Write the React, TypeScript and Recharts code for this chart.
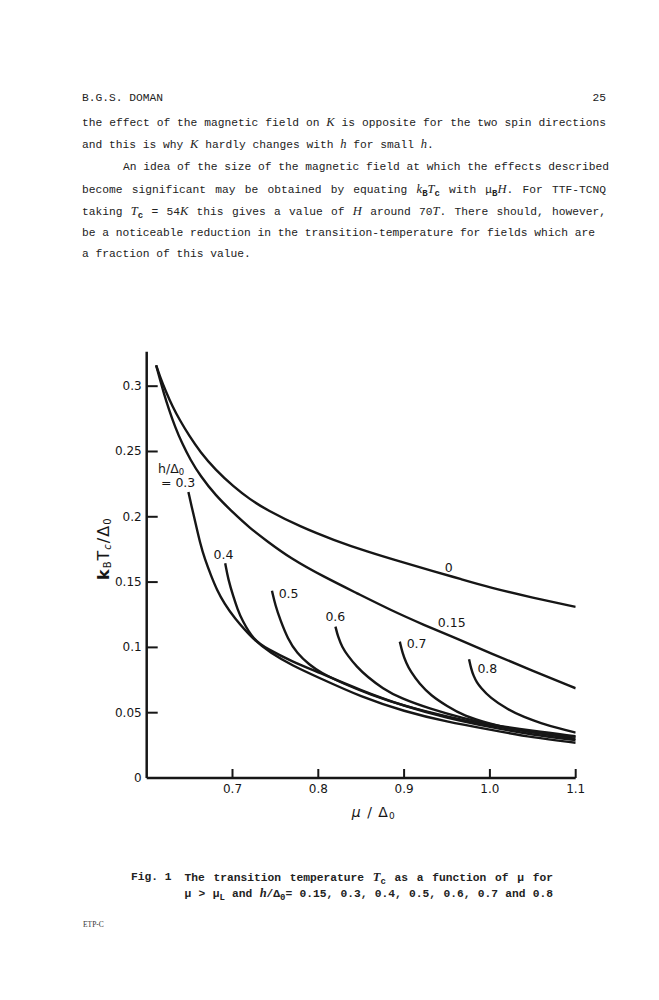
import React from 'react';
import { LineChart, Line, XAxis, YAxis, ReferenceDot } from 'recharts';

// ---------- axis ticks ----------
const xTicks = [0.7, 0.8, 0.9, 1.0, 1.1];
const xTickLabels = ['0.7', '0.8', '0.9', '1.0', '1.1'];
const yTicks = [0, 0.05, 0.1, 0.15, 0.2, 0.25, 0.3];
const yTickLabels = ['0', '0.05', '0.1', '0.15', '0.2', '0.25', '0.3'];

// ---------- series: [mu/Delta0, kBTc/Delta0] ----------
const curveH0: [number, number][] = [
  [0.611, 0.316], [0.616, 0.3065], [0.622, 0.2965], [0.63, 0.2845], [0.639, 0.2735],
  [0.65, 0.2615], [0.6625, 0.2495], [0.68, 0.236], [0.7012, 0.2231], [0.72, 0.2135],
  [0.74, 0.2052], [0.779, 0.1924], [0.818, 0.1822], [0.857, 0.1733], [0.896, 0.1656],
  [0.935, 0.1582], [0.966, 0.1523], [1.0, 0.1458], [1.05, 0.138], [1.1, 0.131],
];
const curveH015: [number, number][] = [
  [0.611, 0.316], [0.6155, 0.305], [0.62, 0.2945], [0.626, 0.282], [0.633, 0.269],
  [0.641, 0.2565], [0.651, 0.2435], [0.6623, 0.2315], [0.68, 0.2165], [0.701, 0.203],
  [0.72, 0.1915], [0.74, 0.1815], [0.7676, 0.1682], [0.8063, 0.1541], [0.8453, 0.1414],
  [0.8842, 0.1286], [0.9231, 0.1172], [0.9621, 0.1065], [1.001, 0.0955], [1.05, 0.082],
  [1.1, 0.0687],
];
const curveH03: [number, number][] = [
  [0.6486, 0.219], [0.653, 0.206], [0.657, 0.195], [0.6623, 0.1797], [0.668, 0.167],
  [0.675, 0.155], [0.6818, 0.144], [0.691, 0.133], [0.701, 0.1235], [0.7245, 0.1057],
  [0.744, 0.096], [0.77, 0.086], [0.8, 0.077], [0.85, 0.062], [0.9, 0.051],
  [0.95, 0.043], [1.0, 0.037], [1.05, 0.031], [1.1, 0.027],
];
const curveH04: [number, number][] = [
  [0.6915, 0.1644], [0.695, 0.152], [0.701, 0.1388], [0.706, 0.129], [0.711, 0.121],
  [0.7245, 0.1057], [0.74, 0.099], [0.77, 0.089], [0.8, 0.081], [0.85, 0.067],
  [0.9, 0.055], [0.95, 0.046], [1.0, 0.039], [1.05, 0.033], [1.1, 0.029],
];
const curveH05: [number, number][] = [
  [0.746, 0.1434], [0.75, 0.132], [0.7557, 0.121], [0.7643, 0.1067], [0.775, 0.0955],
  [0.79, 0.0865], [0.802, 0.081], [0.83, 0.072], [0.86, 0.064], [0.9, 0.055],
  [0.95, 0.047], [1.0, 0.04], [1.05, 0.035], [1.1, 0.03],
];
const curveH06: [number, number][] = [
  [0.82, 0.1159], [0.823, 0.108], [0.828, 0.1], [0.834, 0.094], [0.845, 0.085],
  [0.857, 0.0776], [0.875, 0.0685], [0.896, 0.061], [0.93, 0.053], [0.97, 0.0455],
  [1.0, 0.041], [1.05, 0.036], [1.1, 0.032],
];
const curveH07: [number, number][] = [
  [0.895, 0.1044], [0.898, 0.096], [0.9025, 0.088], [0.9076, 0.0815], [0.918, 0.072],
  [0.931, 0.0633], [0.95, 0.055], [0.97, 0.0475], [1.0, 0.0415], [1.028, 0.037],
  [1.06, 0.034], [1.1, 0.0315],
];
const curveH08: [number, number][] = [
  [0.9757, 0.0909], [0.978, 0.084], [0.981, 0.078], [0.985, 0.073], [0.989, 0.0695],
  [1.0, 0.0615], [1.0206, 0.0525], [1.04, 0.0465], [1.0595, 0.042], [1.08, 0.038],
  [1.1, 0.0348],
];

const seriesList = [curveH0, curveH015, curveH03, curveH04, curveH05, curveH06, curveH07, curveH08];

// ---------- curve labels (data coordinates) ----------
const curveLabelText = ['0', '0.15', '0.4', '0.5', '0.6', '0.7', '0.8', '= 0.3'];
const curveLabelX = [0.952, 0.9555, 0.6895, 0.7654, 0.8199, 0.9146, 0.997, 0.6366];
const curveLabelY = [0.1608, 0.1187, 0.1715, 0.1414, 0.1235, 0.1026, 0.084, 0.2259];
const hLabelPos = [0.6284, 0.2374];

const INK = '#161616';
const CHART_FONT = '"DejaVu Sans", "Liberation Sans", sans-serif';
const MONO = '"Liberation Mono", "DejaVu Sans Mono", monospace';
const SERIF = '"Liberation Serif", "DejaVu Serif", serif';

const toPoints = (arr: [number, number][]) => arr.map(([x, y]) => ({ x, y }));

const idx = (arr: number[], v: number) => arr.findIndex((t) => Math.abs(t - v) < 1e-9);

const XTick = (props: any) => {
  const { x, y, payload } = props;
  const i = idx(xTicks, payload.value);
  return (
    <g>
      <line x1={x} x2={x} y1={y} y2={y - 9} stroke={INK} strokeWidth={2} />
      <text x={x} y={y + 11} textAnchor="middle" dominantBaseline="central" fontSize={12} fill={INK} fontFamily={CHART_FONT}>
        {xTickLabels[i]}
      </text>
    </g>
  );
};

const YTick = (props: any) => {
  const { x, y, payload } = props;
  const i = idx(yTicks, payload.value);
  return (
    <g>
      {i > 0 && <line x1={x} x2={x + 11} y1={y} y2={y} stroke={INK} strokeWidth={2} />}
      <text x={x - 5} y={y} textAnchor="end" dominantBaseline="central" fontSize={12} fill={INK} fontFamily={CHART_FONT}>
        {yTickLabels[i]}
      </text>
    </g>
  );
};

const YLabel = (props: any) => {
  const vb = props.viewBox || { x: 106.7, y: 51.7, width: 40, height: 426.3 };
  const cx = vb.x + vb.width - 44;
  const cy = vb.y + 197;
  return (
    <text
      x={cx}
      y={cy}
      transform={`rotate(-90 ${cx} ${cy})`}
      textAnchor="middle"
      dominantBaseline="central"
      fontSize={16}
      fill={INK}
      fontFamily={CHART_FONT}
      letterSpacing={1}
    >
      <tspan fontWeight="bold">k</tspan>
      <tspan fontSize={10} dy={4}>B</tspan>
      <tspan dy={-4}>T</tspan>
      <tspan fontSize={10} dy={4} fontStyle="italic">c</tspan>
      <tspan dy={-4}>/Δ</tspan>
      <tspan fontSize={10} dy={4}>0</tspan>
    </text>
  );
};

const XLabel = (props: any) => {
  const vb = props.viewBox || { x: 146.7, y: 478, width: 429, height: 30 };
  const cx = vb.x + 227;
  const cy = vb.y + 34;
  return (
    <text x={cx} y={cy} textAnchor="middle" dominantBaseline="central" fontSize={14} fill={INK} fontFamily={CHART_FONT} letterSpacing={1}>
      <tspan fontStyle="italic">μ</tspan>
      <tspan> / Δ</tspan>
      <tspan fontSize={9} dy={4}>0</tspan>
    </text>
  );
};

const Chart = () => (
  <LineChart width={659} height={560} margin={{ top: 51.7, right: 83.3, left: 106.7, bottom: 52 }}>
    <XAxis
      dataKey="x"
      type="number"
      domain={[0.6, 1.1]}
      ticks={xTicks}
      allowDataOverflow
      height={30}
      tickSize={0}
      tickMargin={0}
      tickLine={false}
      tick={<XTick />}
      axisLine={{ stroke: INK, strokeWidth: 2.5 }}
      label={<XLabel />}
    />
    <YAxis
      type="number"
      domain={[0, 0.3264]}
      ticks={yTicks}
      allowDataOverflow
      width={40}
      tickSize={0}
      tickMargin={0}
      tickLine={false}
      tick={<YTick />}
      axisLine={{ stroke: INK, strokeWidth: 2.5 }}
      label={<YLabel />}
    />
    {seriesList.map((s, i) => (
      <Line
        key={i}
        data={toPoints(s)}
        dataKey="y"
        type="basis"
        stroke={INK}
        strokeWidth={2.4}
        dot={false}
        activeDot={false}
        isAnimationActive={false}
      />
    ))}
    {curveLabelText.map((t, i) => (
      <ReferenceDot
        key={'l' + i}
        x={curveLabelX[i]}
        y={curveLabelY[i]}
        r={0}
        ifOverflow="visible"
        shape={(p: any) => (
          <text x={p.cx} y={p.cy} textAnchor="middle" dominantBaseline="central" fontSize={12.5} fill={INK} fontFamily={CHART_FONT}>
            {t}
          </text>
        )}
      />
    ))}
    <ReferenceDot
      x={hLabelPos[0]}
      y={hLabelPos[1]}
      r={0}
      ifOverflow="visible"
      shape={(p: any) => (
        <text x={p.cx} y={p.cy} textAnchor="middle" dominantBaseline="central" fontSize={12.5} fill={INK} fontFamily={CHART_FONT}>
          <tspan>h/Δ</tspan>
          <tspan fontSize={8.5} dy={4}>0</tspan>
        </text>
      )}
    />
  </LineChart>
);

const lineStyle = (top: number, left = 82, width = 524, justify = false): React.CSSProperties => ({
  position: 'absolute',
  top,
  left,
  width,
  fontFamily: MONO,
  fontSize: 11.25,
  lineHeight: '16px',
  color: '#222',
  whiteSpace: 'nowrap',
  textAlign: justify ? 'justify' : 'left',
  textAlignLast: justify ? 'justify' : 'left',
} as React.CSSProperties);

const It = ({ children }: { children: React.ReactNode }) => (
  <span style={{ fontFamily: SERIF, fontStyle: 'italic', fontSize: 12.5 }}>{children}</span>
);
const Sub = ({ children }: { children: React.ReactNode }) => (
  <sub style={{ fontSize: 9, fontWeight: 'bold', verticalAlign: '-3px', lineHeight: 0 }}>{children}</sub>
);

export default function App() {
  return (
    <div style={{ position: 'absolute', left: 0, top: 0, width: 659, height: 1000, background: '#fff', overflow: 'hidden' }}>
      <div style={{ ...lineStyle(90), display: 'flex', justifyContent: 'space-between' }}>
        <span>B.G.S. DOMAN</span>
        <span>25</span>
      </div>
      <div style={{ ...lineStyle(114, 82, 524, true), whiteSpace: 'normal' }}>
        the effect of the magnetic field on <It>K</It> is opposite for the two spin directions
      </div>
      <div style={lineStyle(136)}>
        and this is why <It>K</It> hardly changes with <It>h</It> for small <It>h</It>.
      </div>
      <div style={lineStyle(159, 123)}>
        An idea of the size of the magnetic field at which the effects described
      </div>
      <div style={{ ...lineStyle(181, 82, 524, true), whiteSpace: 'normal' }}>
        become significant may be obtained by equating <It>k</It><Sub>B</Sub><It>T</It><Sub>c</Sub> with μ<Sub>B</Sub><It>H</It>. For TTF-TCNQ
      </div>
      <div style={{ ...lineStyle(203, 82, 524, true), whiteSpace: 'normal' }}>
        taking <It>T</It><Sub>c</Sub> = 54<It>K</It> this gives a value of <It>H</It> around 70<It>T</It>. There should, however,
      </div>
      <div style={lineStyle(225)}>
        be a noticeable reduction in the transition-temperature for fields which are
      </div>
      <div style={lineStyle(246)}>a fraction of this value.</div>

      <div style={{ position: 'absolute', left: 0, top: 300, width: 659, height: 560 }}>
        <Chart />
      </div>

      <div style={{ ...lineStyle(869, 131, 60), fontWeight: 'bold' }}>Fig. 1</div>
      <div style={{ ...lineStyle(869, 184.6, 368.4, true), whiteSpace: 'normal', fontWeight: 'bold' }}>
        The transition temperature <It>T</It><Sub>c</Sub> as a function of μ for
      </div>
      <div style={{ ...lineStyle(885, 184.6, 368.4, true), whiteSpace: 'normal', fontWeight: 'bold' }}>
        μ &gt; μ<Sub>L</Sub> and <It>h</It>/Δ<Sub>0</Sub>= 0.15, 0.3, 0.4, 0.5, 0.6, 0.7 and 0.8
      </div>
      <div style={{ position: 'absolute', left: 83, top: 920, fontFamily: SERIF, fontSize: 7.5, color: '#333' }}>ETP-C</div>
    </div>
  );
}
